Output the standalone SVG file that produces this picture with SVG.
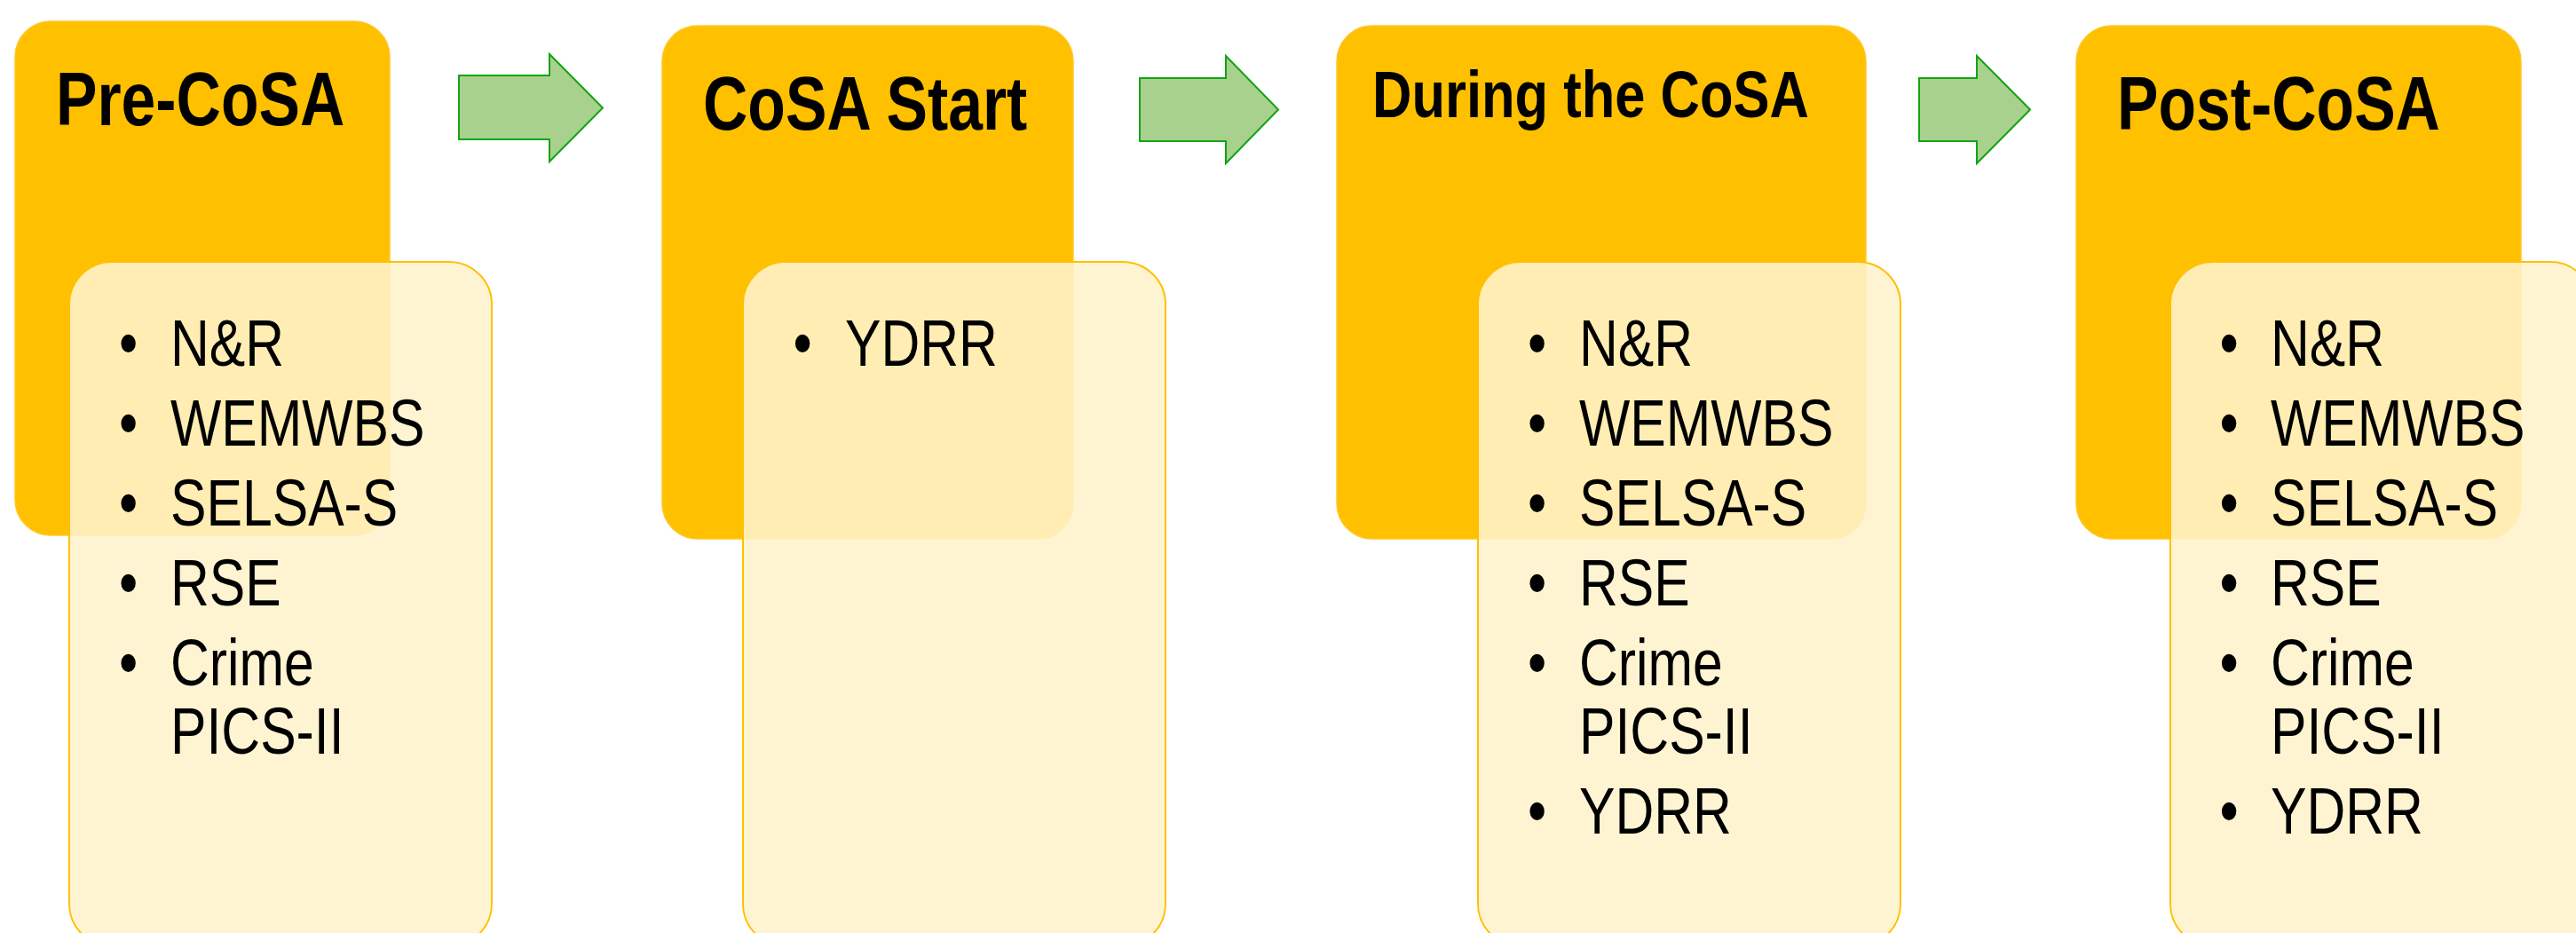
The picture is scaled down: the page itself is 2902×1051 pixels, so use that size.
<svg xmlns="http://www.w3.org/2000/svg" width="2902" height="1051" viewBox="0 0 2902 1051">
<style>
.dark{fill:#FFC000;stroke:#FFC72A;stroke-width:1.5}
.light{fill:#FFF2CC;fill-opacity:0.88;stroke:#FFC000;stroke-width:2}
.arrow{fill:#A9D18E;stroke:#12A512;stroke-width:2;stroke-linejoin:miter}
.t{font-family:"Liberation Sans",Arial,sans-serif;font-size:74px;fill:#000}
.h{font-family:"Liberation Sans",Arial,sans-serif;font-size:85px;font-weight:bold;fill:#000}
.b{font-family:"Liberation Sans",Arial,sans-serif;font-size:74px;fill:#000;text-anchor:middle}
</style>
<rect width="2902" height="1051" fill="#FFFFFF"/>

<g id="connectors">
<path class="arrow" d="M517,85 L619,85 L619,61 L679,121.5 L619,182 L619,157 L517,157 Z"/>
<path class="arrow" d="M1284,88 L1381,88 L1381,63 L1440,123.5 L1381,184 L1381,159 L1284,159 Z"/>
<path class="arrow" d="M2162,88 L2227,88 L2227,63 L2287,123.5 L2227,184 L2227,159 L2162,159 Z"/>
</g>

<g id="pre-cosa">
<rect class="dark" x="17" y="24" width="422" height="579" rx="40" ry="40"/>
<text class="h" transform="translate(63,141) scale(0.82,1)">Pre-CoSA</text>
<rect class="light" x="78" y="295" width="476" height="771" rx="48" ry="48"/>
<text class="b" transform="translate(144.5,412) scale(0.82,1)">•</text>
<text class="t" transform="translate(192,412) scale(0.82,1)">N&amp;R</text>
<text class="b" transform="translate(144.5,502) scale(0.82,1)">•</text>
<text class="t" transform="translate(192,502) scale(0.82,1)">WEMWBS</text>
<text class="b" transform="translate(144.5,592) scale(0.82,1)">•</text>
<text class="t" transform="translate(192,592) scale(0.82,1)">SELSA-S</text>
<text class="b" transform="translate(144.5,682) scale(0.82,1)">•</text>
<text class="t" transform="translate(192,682) scale(0.82,1)">RSE</text>
<text class="b" transform="translate(144.5,772) scale(0.82,1)">•</text>
<text class="t" transform="translate(192,772) scale(0.82,1)">Crime</text>
<text class="t" transform="translate(192,849) scale(0.82,1)">PICS-II</text>
</g>

<g id="cosa-start">
<rect class="dark" x="746" y="29" width="463" height="578" rx="40" ry="40"/>
<text class="h" transform="translate(792,146) scale(0.82,1)">CoSA Start</text>
<rect class="light" x="837" y="295" width="476" height="771" rx="48" ry="48"/>
<text class="b" transform="translate(904,412) scale(0.82,1)">•</text>
<text class="t" transform="translate(952,412) scale(0.82,1)">YDRR</text>
</g>

<g id="during-cosa">
<rect class="dark" x="1506" y="29" width="596" height="578" rx="40" ry="40"/>
<text class="h" style="font-size:75px" transform="translate(1546,132) scale(0.82,1)">During the CoSA</text>
<rect class="light" x="1665" y="295" width="476" height="771" rx="48" ry="48"/>
<text class="b" transform="translate(1731.5,412) scale(0.82,1)">•</text>
<text class="t" transform="translate(1779,412) scale(0.82,1)">N&amp;R</text>
<text class="b" transform="translate(1731.5,502) scale(0.82,1)">•</text>
<text class="t" transform="translate(1779,502) scale(0.82,1)">WEMWBS</text>
<text class="b" transform="translate(1731.5,592) scale(0.82,1)">•</text>
<text class="t" transform="translate(1779,592) scale(0.82,1)">SELSA-S</text>
<text class="b" transform="translate(1731.5,682) scale(0.82,1)">•</text>
<text class="t" transform="translate(1779,682) scale(0.82,1)">RSE</text>
<text class="b" transform="translate(1731.5,772) scale(0.82,1)">•</text>
<text class="t" transform="translate(1779,772) scale(0.82,1)">Crime</text>
<text class="t" transform="translate(1779,849) scale(0.82,1)">PICS-II</text>
<text class="b" transform="translate(1731.5,939) scale(0.82,1)">•</text>
<text class="t" transform="translate(1779,939) scale(0.82,1)">YDRR</text>
</g>

<g id="post-cosa">
<rect class="dark" x="2339" y="29" width="501" height="578" rx="40" ry="40"/>
<text class="h" transform="translate(2385,146) scale(0.82,1)">Post-CoSA</text>
<rect class="light" x="2445" y="295" width="476" height="771" rx="48" ry="48"/>
<text class="b" transform="translate(2511,412) scale(0.82,1)">•</text>
<text class="t" transform="translate(2558,412) scale(0.82,1)">N&amp;R</text>
<text class="b" transform="translate(2511,502) scale(0.82,1)">•</text>
<text class="t" transform="translate(2558,502) scale(0.82,1)">WEMWBS</text>
<text class="b" transform="translate(2511,592) scale(0.82,1)">•</text>
<text class="t" transform="translate(2558,592) scale(0.82,1)">SELSA-S</text>
<text class="b" transform="translate(2511,682) scale(0.82,1)">•</text>
<text class="t" transform="translate(2558,682) scale(0.82,1)">RSE</text>
<text class="b" transform="translate(2511,772) scale(0.82,1)">•</text>
<text class="t" transform="translate(2558,772) scale(0.82,1)">Crime</text>
<text class="t" transform="translate(2558,849) scale(0.82,1)">PICS-II</text>
<text class="b" transform="translate(2511,939) scale(0.82,1)">•</text>
<text class="t" transform="translate(2558,939) scale(0.82,1)">YDRR</text>
</g>
</svg>
